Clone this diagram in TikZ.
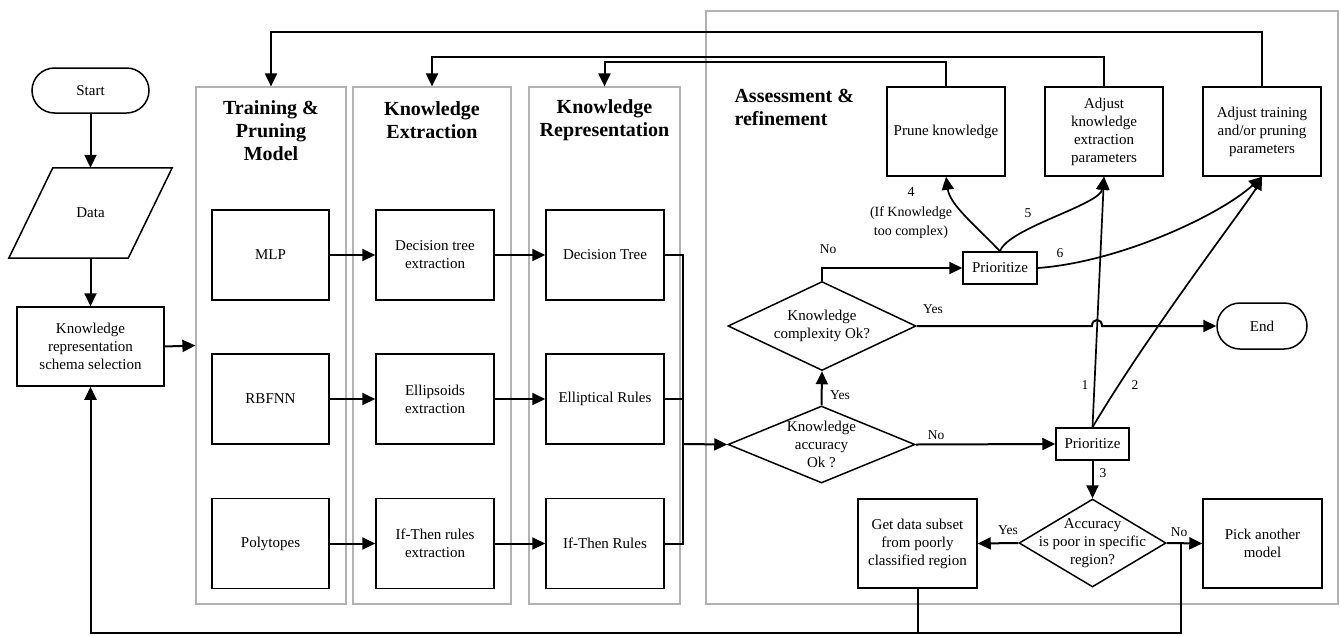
\documentclass[tikz,border=0pt]{standalone}
\usepackage{fontspec}
\setmainfont{Liberation Serif}
\usetikzlibrary{arrows.meta,shapes.geometric,calc}
\begin{document}
\begin{tikzpicture}[x=1pt,y=-1pt,
  arr/.style={-{Triangle[length=13pt,width=12pt]}},
  body/.style={font=\fontsize{15}{18}\selectfont, align=center},
  box/.style={draw, line width=1.5pt, body, inner sep=0pt},
  panel/.style={draw=black!30, line width=1.2pt, inner sep=0pt},
  head/.style={font=\fontsize{20}{23}\selectfont\bfseries, align=center},
  conn/.style={line width=2pt},
  curv/.style={line width=1.7pt},
  lbl/.style={font=\fontsize{13.5}{16}\selectfont, inner sep=0pt},
  decision/.style={diamond, draw, line width=1.5pt, inner sep=0pt},
  stepbox/.style={box, minimum width=118pt, minimum height=90pt},
]
\useasboundingbox (0,0) rectangle (1340,635);

% stage panels
\node[panel, minimum width=150pt, minimum height=517pt] (train) at (271,345.5) {};
\node[panel, minimum width=158pt, minimum height=517pt] (ke) at (432,345.5) {};
\node[panel, minimum width=151pt, minimum height=517pt] (kr) at (604.5,345.5) {};
\node[panel, minimum width=632pt, minimum height=593pt] (asr) at (1022,307.5) {};

\node[head] (htrain) at (271,131) {Training \&\\Pruning\\Model};
\node[head] (hke) at (432,120) {Knowledge\\Extraction};
\node[head] (hkr) at (604.5,120) {Knowledge\\Representation};
\node[head, align=left, anchor=west] (hasr) at (731,107) {Assessment \&\\refinement};

% entry column
\node[box, rounded corners=22.5pt, minimum width=117pt, minimum height=45pt] (start) at (90.5,90.5) {Start};
\node[body, inner sep=0pt, minimum width=119pt, minimum height=90pt] (data) at (90.5,213) {Data};
\draw[line width=1.5pt] ($(data.north west)+(22,0)$) -- ($(data.north east)+(22,0)$)
  -- ($(data.south east)+(-22,0)$) -- ($(data.south west)+(-22,0)$) -- cycle;
\node[box, minimum width=147pt, minimum height=79pt] (krss) at (90.5,346.5) {Knowledge\\representation\\schema selection};

% models, extraction, representation
\node[stepbox, minimum width=117pt] (mlp) at (270.5,255) {MLP};
\node[stepbox, minimum width=117pt] (rbf) at (270.5,399) {RBFNN};
\node[stepbox, minimum width=117pt] (poly) at (270.5,543.5) {Polytopes};
\node[stepbox] (dte) at (435,255) {Decision tree\\extraction};
\node[stepbox] (ee) at (435,399) {Ellipsoids\\extraction};
\node[stepbox] (ite) at (435,543.5) {If-Then rules\\extraction};
\node[stepbox] (dt) at (605,255) {Decision Tree};
\node[stepbox] (er) at (605,399) {Elliptical Rules};
\node[stepbox] (itr) at (605,543.5) {If-Then Rules};

% assessment nodes
\node[decision, minimum width=187pt, minimum height=77pt,
  label={[body]center:Knowledge\\accuracy\\Ok ?}] (acc) at (821.5,444.5) {};
\node[decision, minimum width=188pt, minimum height=89pt,
  label={[body]center:Knowledge\\complexity Ok?}] (cmp) at (822,326) {};
\node[decision, minimum width=147pt, minimum height=88pt,
  label={[body]center:Accuracy\\is poor in specific\\region?}] (apoor) at (1092.5,543) {};
\node[box, minimum width=74pt, minimum height=32pt] (pr1) at (1000,268) {Prioritize};
\node[box, minimum width=73pt, minimum height=32pt] (pr2) at (1092.5,444) {Prioritize};
\node[box, rounded corners=23pt, minimum width=90pt, minimum height=46pt] (end) at (1262,326) {End};
\node[box, minimum width=118pt, minimum height=89pt] (prune) at (946,131.5) {Prune knowledge};
\node[box, minimum width=118pt, minimum height=89pt] (adjke) at (1104,131.5) {Adjust\\knowledge\\extraction\\parameters};
\node[box, minimum width=118pt, minimum height=89pt] (adjtr) at (1262,131.5) {Adjust training\\and/or pruning\\parameters};
\node[box, minimum width=119pt, minimum height=89pt] (gds) at (917.5,543.5) {Get data subset\\from poorly\\classified region};
\node[box, minimum width=119pt, minimum height=89pt] (pick) at (1262.5,543.5) {Pick another\\model};

% main flow
\draw[conn,arr] (start) -- (data);
\draw[conn,arr] (data) -- (krss);
\draw[conn,arr] (krss.east) -- (train.west);
\draw[conn,arr] (mlp) -- (dte);
\draw[conn,arr] (rbf) -- (ee);
\draw[conn,arr] (poly) -- (ite);
\draw[conn,arr] (dte) -- (dt);
\draw[conn,arr] (ee) -- (er);
\draw[conn,arr] (ite) -- (itr);

\coordinate (mg) at (683,444);
\draw[conn] (dt.east) -| (mg);
\draw[conn] (itr.east) -| (mg);
\draw[conn] (er.east) -- (er.east -| mg);
\draw[conn,arr] (mg) -- (acc.west);

% feedback to the stages
\coordinate (top1) at (1262,32);
\coordinate (top2) at (1104,57);
\coordinate (top3) at (946,62);
\draw[conn,arr] (adjtr.north) |- (top1) -| (train.north);
\draw[conn,arr] (adjke.north) |- (top2) -| (ke.north);
\draw[conn,arr] (prune.north) |- (top3) -| (kr.north);

% decisions
\draw[conn,arr] (acc.north) -- (cmp.south);
\node[lbl] at (840,395) {Yes};
\draw[conn,arr] (cmp.north) |- (pr1.west);
\node[lbl] at (828,249) {No};
\draw[conn,arr] (cmp.east) -- (1092,326) .. controls (1092,318) and (1102,318) .. (1102,326) -- (end.west);
\node[lbl] at (933,309) {Yes};
\draw[conn,arr] (acc.east) -- (pr2.west);
\node[lbl] at (936,435) {No};

% prioritized refinements
\draw[curv,arr] (pr2.north) -- (adjke.south);
\node[lbl] at (1085,385) {1};
\draw[curv,arr] (pr2.north) .. controls (1150,330) and (1250,200) .. (adjtr.south);
\node[lbl] at (1135,385) {2};
\draw[conn,arr] (pr2.south) -- (apoor.north);
\node[lbl] at (1103,473) {3};
\draw[curv,arr] (pr1.north) .. controls (975,225) and (950,205) .. (prune.south);
\node[lbl, align=center, font=\fontsize{14}{19.5}\selectfont] at (911,213) {4\\(If Knowledge\\too complex)};
\draw[curv,arr] (pr1.north) .. controls (1008,228) and (1100,205) .. (adjke.south);
\node[lbl] at (1028,213) {5};
\draw[curv,arr] (pr1.east) .. controls (1120,262) and (1220,215) .. (adjtr.south);
\node[lbl] at (1060,253) {6};

\draw[conn,arr] (apoor.west) -- (gds.east);
\node[lbl] at (1008,530) {Yes};
\draw[conn,arr] (apoor.east) -- (pick.west);
\node[lbl] at (1179,532) {No};

% return to schema selection
\coordinate (nj) at (1181,543);
\coordinate (bl) at (90.5,633);
\draw[conn,arr] (nj) |- (bl) -- (krss.south);
\draw[conn] (gds.south) -- (gds.south |- bl);
\end{tikzpicture}
\end{document}
